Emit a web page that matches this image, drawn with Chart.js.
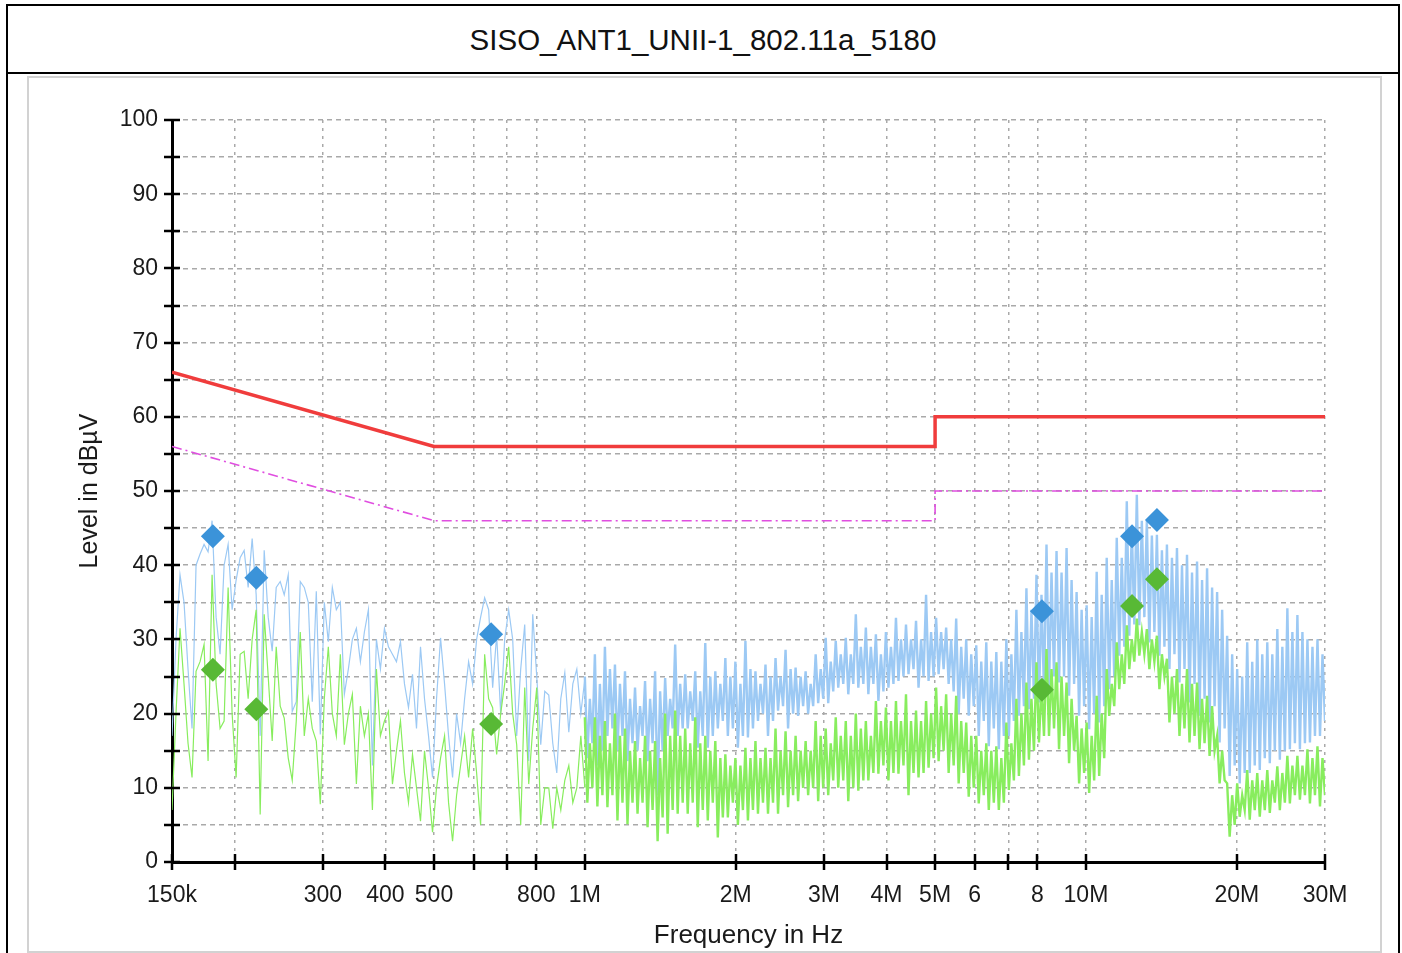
<!DOCTYPE html>
<html>
<head>
<meta charset="utf-8">
<script src="https://cdn.jsdelivr.net/npm/chart.js@4.4.1/dist/chart.umd.min.js"></script>
<style>
  body { margin: 0; background: #fff; font-family: "Liberation Sans", Arial, sans-serif; }
  #frame { position: absolute; left: 6px; top: 4px; width: 1390px; height: 960px; border: 2px solid #000; border-bottom: none; }
  #title { position: absolute; left: 8px; top: 6px; width: 1390px; height: 66px; line-height: 68px; text-align: center; font-size: 29.5px; color: #111; border-bottom: 2px solid #000; }
  #panel { position: absolute; left: 27px; top: 76px; width: 1351px; height: 873px; border: 2px solid #d2d2d2; }
  #graph { position: absolute; left: 29px; top: 78px; }
</style>
</head>
<body>
<div id="frame"></div>
<div id="title">SISO_ANT1_UNII-1_802.11a_5180</div>
<div id="panel"></div>
<canvas id="graph" width="1351" height="873"></canvas>
<script>
// Оси
var xTickValues = [150e3, 200e3, 300e3, 400e3, 500e3, 600e3, 700e3, 800e3, 1e6, 2e6, 3e6, 4e6, 5e6, 6e6, 7e6, 8e6, 10e6, 20e6, 30e6];
var xTickLabels = ['150k', '', '300', '400', '500', '', '', '800', '1M', '2M', '3M', '4M', '5M', '6', '', '8', '10M', '20M', '30M'];

// Линии лимитов (QP и AV)
var limitFreqs = [150e3, 500e3, 5e6, 5e6, 30e6];
var qpLimit = [66, 56, 56, 60, 60];
var avLimit = [56, 46, 46, 50, 50];

// Маркеры (финальные измерения)
var markerFreqs = [181e3, 221e3, 650e3, 8.17e6, 12.36e6, 13.86e6];
var peakMarkers = [43.9, 38.3, 30.7, 33.8, 43.9, 46.1];
var avgMarkers = [25.9, 20.6, 18.6, 23.2, 34.5, 38.1];

// Развёртка: 150k..1M и 1M..30M
var lowBandStart = 150e3, lowBandStop = 1e6;
var highBandStart = 1e6, highBandStop = 30e6;

// Пиковый детектор (голубой), 150k..1M
var peakLow = [17,30,38.7,35,26,18,40,41.5,42.8,41.8,
  46,33,28,40,42.8,34,38,41,42,37,
  43.6,36,17,42,33,28.4,37,37.8,36,38.7,
  20.3,21.6,37.8,37,35,21.6,36.5,17.2,35,29.7,
  37,34,35,22.6,26,30,31.5,27,31,34,
  13,30,26,31.5,29,28,27,29.7,24,20.8,
  25.3,18,29,22,17,11.4,22,30.2,24,17,
  11.4,20,16,22,27,24,30,33,35.6,34,
  23.5,30.6,20,30,34,30,17,26,32,13.6,
  33.4,25,15.8,23,22.5,16,12,22,25.5,17.5,
  24,26,20,24.7];

// Средний детектор (зелёный), 150k..1M
var avgLow = [7,20,31.5,24,16,11.4,25.7,27,29.3,13.6,
  38.7,24,18,19,37,20,11.4,28,28.4,22,
  30,34,6.4,33.4,25,16.3,29,21,19.4,14,
  11,19,31,17,22,18,16.3,7.8,22,29,
  20,17,28,15.8,20,22.6,10.5,21,17,20,
  7,26,17,19,20.3,10.5,15,19,12,8,
  14.5,10,5.5,15,10,4,10,14,17,8,
  2.8,9,13,17,11.4,18,12,5,28,22,
  20.8,14.5,20,24,29,20,15.8,5,23.5,10.5,
  18,23.5,5,10,10,4.5,10,7,11,13,
  8,10,17,10];

// Пиковый детектор, 1M..30M
var peakHigh = [
  25,14,22,16, 28,13,24,15, 29,17,26,18, 26.6,15,24,17, 25.7,13.6,22,16, 23.5,15,21,17,
  24.4,13.6,22,16, 25.7,9,23,15, 24.8,17,22,18, 29.3,17,24,18, 25.3,18,23,19, 25.7,15.4,23,17,
  29.5,15.4,25,17, 25.7,18,24,19, 27.5,17,25,18, 27,15.4,24,17, 29.8,16.8,26,18, 25.7,19,24,20,
  26.6,17,25,19, 27.5,20.4,25,21, 28.6,18,26,20, 26.2,19.7,25,21, 25.7,20,24,21, 28,21.4,26,22,
  30.2,21.4,27,23, 29.8,23.5,28,24, 30.2,22.6,28,24, 33.4,23.5,29,24, 31.6,22.6,29,24, 30.7,21.7,28,23,
  31,23.5,29,24, 32.9,24.4,30,25, 32,25.3,30,26, 32.5,23.5,30,25, 36,24.4,31,25, 32.9,25.3,31,26,
  31.6,24,30,23, 32.8,20,29,22, 30,19.7,28,21, 29.2,17,27,19, 29.6,15.6,27,18, 28.3,15.2,27,17,
  30,17,28,19, 34,19.7,31,21, 36.9,20.6,34,22, 38.7,21.5,36,23, 42.8,23.3,39,25, 41.9,24.2,39,25,
  42.3,22.4,38,24, 36.4,19.7,34,21, 34.6,17.9,33,20, 39.1,18.8,36,21, 41,23.3,38,25, 43.7,27.8,41,29,
  48.6,30.5,45,32, 49.5,31.9,46,33, 46,29.6,44,31, 44.1,27.8,42,29, 42.8,26,41,28, 42.3,24.2,40,26,
  41.4,21.5,39,24, 40.5,19.7,38,22, 39.6,18.8,37,21, 36.4,16.1,34,18, 30.5,11.6,28,13, 26,10.6,25,12,
  29.6,12,27,13, 30,12.4,28,14, 29.6,13.3,28,15, 31.4,13.8,29,15, 34.2,15.2,31,16, 33.3,15.2,31,16,
  30,16.1,29,17, 30,17,28,19];

// Средний детектор, 1M..30M
var avgHigh = [
  19.5,8,16,10, 19.5,7.5,17,9, 19,7.4,16,9, 20,5.6,17,8, 18,5.1,15,8, 16.3,6.5,14,8,
  17,4.7,15,7, 16.3,2.8,14,6, 20,3.8,17,7, 20.4,6.5,17,8, 18,6.5,16,8, 19.5,4.7,16,7,
  17,5.6,15,8, 16.3,3.3,14,6, 14.5,6,13,8, 14,5,13,7, 15.4,5.6,14,7, 16.3,6.5,14,8,
  15.4,6.5,14,8, 18,6.5,15,9, 17.6,7.4,15,9, 17,8.2,15,10, 16.3,9,15,10, 19,8.2,17,10,
  18,9,16,11, 19.5,10,17,11, 19,8.2,17,10, 20,9.6,18,11, 19,11,17,12, 21.7,11.9,19,13,
  20.8,11,19,12, 21.7,11.9,19,13, 22.6,9,19,12, 20.4,11.4,19,12, 21.7,12.7,20,14, 23.5,13.6,21,15,
  22.6,12,20,13, 22.4,10.6,19,12, 18.8,8.8,17,10, 17,7.9,15,9, 16,7,15,8, 15.6,7,14,8,
  18.8,9.7,16,11, 22,11.6,20,13, 24.2,13.8,22,15, 26.9,16.1,24,17, 28.7,17,26,18, 26.9,15.2,25,17,
  24.2,13.3,22,15, 19.7,10.6,18,12, 18.8,9.3,17,11, 22.4,11.6,20,14, 26,19.7,24,21, 29.6,23.3,28,24,
  31.9,26,30,27, 32.8,27.8,31,28, 31.4,26,30,27, 30.5,23.3,28,25, 27.4,18.8,25,20, 26,17,24,18,
  26,16.1,24,17, 24.2,15.2,22,16, 22.4,14.3,21,15, 17,10.6,15,11, 10.6,3.4,9,5, 10.6,6.1,9,7,
  12.4,5.7,11,7, 12,6.1,11,7, 12.4,6.6,11,8, 12.9,7,12,8, 14.3,7.9,13,9, 14.3,8.4,13,9,
  15.2,7.9,14,9, 15.6,7.5,14,9];

// Частоты точек развёртки (лог. шаг между началом и концом полосы)
function sweep(start, stop, levels) {
  var out = [];
  for (var i = 0; i < levels.length; i++) {
    out.push({ x: start * Math.pow(stop / start, i / (levels.length - 1)), y: levels[i] });
  }
  return out;
}
function pairs(xs, ys) {
  return xs.map(function (x, i) { return { x: x, y: ys[i] }; });
}

var peakColor = '#9cc9f4';
var avgColor = '#88ed5e';

function trace(label, data, color, width, order) {
  return { label: label, data: data, showLine: true, pointRadius: 0,
    borderColor: color, borderWidth: width, order: order };
}

// Засечки, пересекающие оси
var crossTicks = {
  id: 'crossTicks',
  afterDraw: function (chart) {
    var ctx = chart.ctx, area = chart.chartArea, sx = chart.scales.x, sy = chart.scales.y;
    ctx.save();
    ctx.strokeStyle = '#000';
    ctx.lineWidth = 2.5;
    ctx.beginPath();
    sx.ticks.forEach(function (t) {
      var px = Math.round(sx.getPixelForValue(t.value));
      ctx.moveTo(px, area.bottom - 8);
      ctx.lineTo(px, area.bottom + 8);
    });
    sy.ticks.forEach(function (t) {
      var py = Math.round(sy.getPixelForValue(t.value));
      ctx.moveTo(area.left - 8, py);
      ctx.lineTo(area.left + 8, py);
    });
    ctx.stroke();
    ctx.restore();
  }
};

var ctx = document.getElementById('graph').getContext('2d');
var chart = new Chart(ctx, {
  type: 'scatter',
  data: {
    datasets: [
      { label: 'Peak markers', data: pairs(markerFreqs, peakMarkers), pointStyle: 'rectRot', pointRadius: 12,
        backgroundColor: '#3b93d9', borderWidth: 0, order: 0 },
      { label: 'Avg markers', data: pairs(markerFreqs, avgMarkers), pointStyle: 'rectRot', pointRadius: 12,
        backgroundColor: '#58b935', borderWidth: 0, order: 0 },
      { label: 'QP limit', data: pairs(limitFreqs, qpLimit), showLine: true, pointRadius: 0,
        borderColor: '#f03c3c', borderWidth: 3.5, order: 1 },
      { label: 'AV limit', data: pairs(limitFreqs, avLimit), showLine: true, pointRadius: 0,
        borderColor: '#e04ee0', borderWidth: 1.6, borderDash: [10, 4, 2, 4], order: 1 },
      trace('Average low', sweep(lowBandStart, lowBandStop, avgLow), avgColor, 1.2, 2),
      trace('Average high', sweep(highBandStart, highBandStop, avgHigh), avgColor, 2.4, 2),
      trace('Peak low', sweep(lowBandStart, lowBandStop, peakLow), peakColor, 1.2, 3),
      trace('Peak high', sweep(highBandStart, highBandStop, peakHigh), peakColor, 2.4, 3)
    ]
  },
  options: {
    responsive: false,
    animation: false,
    layout: { padding: { left: 0, right: 55, top: 42, bottom: 0 } },
    plugins: { legend: { display: false }, tooltip: { enabled: false } },
    scales: {
      x: {
        type: 'logarithmic',
        min: 150e3,
        max: 30e6,
        afterBuildTicks: function (scale) {
          scale.ticks = xTickValues.map(function (v) { return { value: v }; });
        },
        afterFit: function (scale) { scale.height = 89; },
        ticks: {
          autoSkip: false,
          maxRotation: 0,
          padding: 20,
          color: '#1a1a1a',
          font: { family: 'Liberation Sans', size: 23 },
          callback: function (v, i) { return xTickLabels[i]; }
        },
        grid: { color: '#a9a9a9', lineWidth: 1.5, drawTicks: false },
        border: { color: '#000', width: 3, dash: [3, 5] },
        title: { display: true, text: 'Frequency in Hz', color: '#1a1a1a',
          font: { family: 'Liberation Sans', size: 26 }, padding: { top: 0, bottom: 0 } }
      },
      y: {
        min: 0,
        max: 100,
        afterFit: function (scale) { scale.width = 143; },
        ticks: {
          stepSize: 5,
          padding: 14,
          color: '#1a1a1a',
          font: { family: 'Liberation Sans', size: 23 },
          callback: function (v) { return v % 10 === 0 ? v : ''; }
        },
        grid: { color: '#a9a9a9', lineWidth: 1.5, drawTicks: false },
        border: { color: '#000', width: 3, dash: [5, 4] },
        title: { display: true, text: 'Level in dBµV', color: '#1a1a1a',
          font: { family: 'Liberation Sans', size: 25 }, padding: { top: 46, bottom: 0 } }
      }
    }
  },
  plugins: [crossTicks]
});
</script>
</body>
</html>
